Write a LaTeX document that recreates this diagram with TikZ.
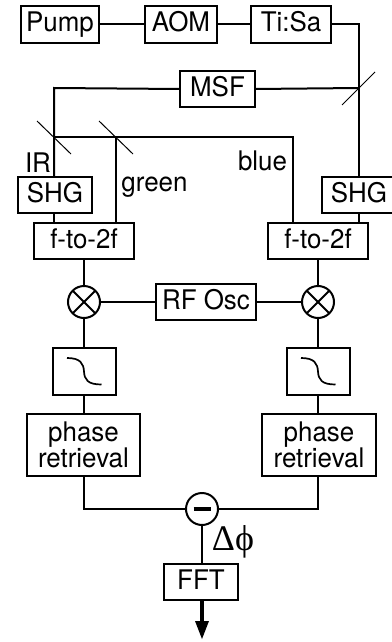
\documentclass[tikz,border=0pt]{standalone}
\usepackage{fontspec}
\setmainfont[FakeStretch=0.96]{TeX Gyre Heros}
\newfontfamily\symfont{Liberation Serif}
\begin{document}
\begin{tikzpicture}[x=1pt,y=-1pt,line join=miter,
  every node/.style={inner sep=0pt,outer sep=0pt},
  lbl/.style={font=\fontsize{27}{26}\selectfont},
  box/.style={draw,line width=2pt,minimum width=#1-2pt,minimum height=36.5pt,text height=14.5pt,text depth=0pt,lbl,fill=white},
  tallbox/.style={draw,line width=2pt,minimum width=#1-2pt,minimum height=62pt,lbl,align=center},
  filterbox/.style={draw,line width=2pt,minimum width=63pt,minimum height=47pt},
  mix/.style={draw,line width=2pt,circle,minimum size=32pt,fill=white},
  wire/.style={line width=2pt},
  mirror/.style={line width=1pt},
  curvel/.style={line width=1.7pt}]
\useasboundingbox (0,0) rectangle (391,642);
% top row
\node[box=80] (pump) at (60,24.5) {Pump};
\node[box=74] (aom) at (181,24.5) {AOM};
\node[box=82] (tisa) at (291,24.5) {Ti:Sa};
\node[box=77] (msf) at (217.5,89) {MSF};
\node[box=76] (shgl) at (55,195) {SHG};
\node[box=76] (shgr) at (359,195) {SHG};
\node[box=102] (ffl) at (84,241) {f-to-2f};
\node[box=102] (ffr) at (318,241) {f-to-2f};
\node[box=102] (rf) at (206,302) {RF Osc};
\node[mix] (mxl) at (84,302) {};
\node[mix] (mxr) at (318,302) {};
\node[filterbox] (fl) at (84.5,371.5) {};
\node[filterbox] (fr) at (318.5,371.5) {};
\node[tallbox=115] (prl) at (83.5,445) {phase\\retrieval};
\node[tallbox=116] (prr) at (319,445) {phase\\retrieval};
\node[mix] (diff) at (202,509) {};
\node[box=76] (fft) at (201,582) {FFT};
% free points
\coordinate (c1) at (359,24.5);
\coordinate (m1) at (359,88);
\coordinate (c2) at (54,88);
\coordinate (m2) at (54,137);
\coordinate (m3) at (116,137);
\coordinate (c3) at (293,137);
\coordinate (c4) at (84,509);
\coordinate (c5) at (318,509);
\coordinate (out) at (202,639);
% wires
\draw[wire] (pump) -- (aom);
\draw[wire] (aom) -- (tisa);
\draw[wire] (tisa.east) -- (c1) -- (m1) -- (shgr.north -| m1);
\draw[wire] (m1) -- (msf.east);
\draw[wire] (msf.west) -- (c2) -- (m2) -- (shgl.north -| m2);
\draw[wire] (m2) -- (m3) -- (c3) -- (ffr.north -| c3);
\draw[wire] (m3) -- (ffl.north -| m3);
\draw[wire] (shgl.south -| m2) -- (ffl.north -| m2);
\draw[wire] (shgr.south -| m1) -- (ffr.north -| m1);
\draw[wire] (ffl) -- (mxl);
\draw[wire] (ffr) -- (mxr);
\draw[wire] (mxl) -- (rf);
\draw[wire] (rf) -- (mxr);
\draw[wire] (mxl) -- (fl.north -| mxl);
\draw[wire] (mxr) -- (fr.north -| mxr);
\draw[wire] (fl.south -| mxl) -- (prl.north -| mxl);
\draw[wire] (fr.south -| mxr) -- (prr.north -| mxr);
\draw[wire] (prl.south -| c4) -- (c4) -- (diff);
\draw[wire] (prr.south -| c5) -- (c5) -- (diff);
\draw[wire] (diff) -- (fft.north -| diff);
\draw[line width=3.4pt] (fft.south -| out) -- ([yshift=18pt]out);
\fill (195,621) -- (209,621) -- (out) -- cycle;
% mirrors
\draw[mirror] (342,105) -- (375,72);
\draw[mirror] (37,121) -- (71,154);
\draw[mirror] (99,121) -- (133,154);
% mixer marks
\foreach \m in {mxl,mxr}{
  \draw[wire] (\m.north west) -- (\m.south east);
  \draw[wire] (\m.north east) -- (\m.south west);
}
\draw[line width=3.2pt] (193.5,509) -- (210.5,509);
% filter curves
\foreach \f in {fl,fr}{
  \draw[curvel] ([shift={(-17.5,-13.5)}]\f.center) .. controls ([shift={(-4,-13.5)}]\f.center) and ([shift={(-1,-8)}]\f.center) .. ([shift={(-0.5,0)}]\f.center) .. controls ([shift={(0,8)}]\f.center) and ([shift={(3,13)}]\f.center) .. ([shift={(17,13)}]\f.center);
}
% labels
\node[lbl,anchor=base] (ir) at (38,172) {IR};
\node[lbl,anchor=base] (green) at (154.5,191) {green};
\node[lbl,anchor=base] (blue) at (262.5,170) {blue};
\node[anchor=base,font=\symfont\fontsize{36}{36}\selectfont] (dphi) at (233,550) {Δϕ};
\end{tikzpicture}
\end{document}
